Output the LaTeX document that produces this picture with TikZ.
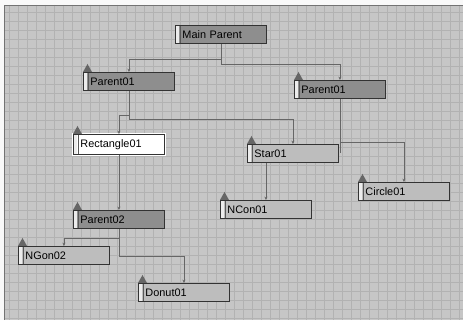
\documentclass[tikz,border=0pt]{standalone}
\usepackage{fontspec}
\setmainfont{Liberation Sans}
\usetikzlibrary{arrows.meta, positioning, calc}
\definecolor{canvasbg}{HTML}{C6C6C6}
\definecolor{gridc}{HTML}{B2B2B2}
\definecolor{boxdark}{HTML}{8E8E8E}
\definecolor{boxlight}{HTML}{BDBDBD}

\begin{document}
\begin{tikzpicture}[
    x=0.03cm, y=-0.03cm,
    font=\fontsize{9.3}{10}\selectfont,
    >={Stealth[length=1mm, width=0.9mm]},
    obj/.style={draw=black!80, fill=#1, line width=0.8pt, anchor=north west, minimum width=2.73cm, minimum height=0.54cm, inner xsep=0.21cm, inner ysep=0pt, text width=2.31cm, align=left,
      path picture={\fill[white!85!gray] (path picture bounding box.north west) rectangle ([xshift=0.12cm]path picture bounding box.south west);
        \draw[black!65, line width=0.6pt] ([xshift=0.15cm]path picture bounding box.north west) -- ([xshift=0.15cm]path picture bounding box.south west);}},
    sel/.style={minimum height=0.6cm, preaction={draw=white, line width=3.2pt}},
    link/.style={->, draw=black!60, line width=0.5pt},
    tri/.style={fill=black!60},
  ]
  \useasboundingbox (0,0) rectangle (463,320);
  % ---- canvas and grid
  \fill[white!95!gray] (0,0) rectangle (463,320);
  \fill[canvasbg] (4,5) rectangle (463,320);
  \foreach \gx in {9,18,...,463} \draw[gridc, line width=0.35pt] (\gx,5) -- (\gx,320);
  \foreach \gy in {12,21,...,320} \draw[gridc, line width=0.35pt] (4,\gy) -- (463,\gy);
  \draw[black!55, line width=1.2pt] (4.5,320) -- (4.5,5.5) -- (463,5.5);
  % ---- objects
  \node[obj=boxdark] (main) at (175,25) {Main Parent};
  \node[obj=boxdark] (par1) at (83,72) {Parent01};
  \node[obj=boxdark] (par1b) at (294,80) {Parent01};
  \node[obj=white, sel] (rect) at (73,134) {Rectangle01};
  \node[obj=boxlight] (star) at (247,144) {Star01};
  \node[obj=boxlight] (circ) at (358,182) {Circle01};
  \node[obj=boxlight] (ngon1) at (220,200) {NCon01};
  \node[obj=boxdark] (par2) at (73,210) {Parent02};
  \node[obj=boxlight] (ngon2) at (18,246) {NGon02};
  \node[obj=boxlight] (donut) at (138,283) {Donut01};
  % ---- markers
  \foreach \n in {par1,par1b,rect,star,circ,ngon1,par2,ngon2,donut}
    \fill[tri] (\n.north west) -- ++(9,0) -- ++(-4.5,-8) -- cycle;
  % ---- links
  \draw[link] (main.south) -- ++(0,15) -| (par1.north);
  \draw[link] (main.south) -- ++(0,20) -| (par1b.north);
  \draw[link] (par1.south) -- ++(0,28) -| (star.north);
  \draw[link] ($(par1.south)+(0,24)$) -| (rect.north);
  \draw[link] (rect.south) -- (par2.north);
  \draw[draw=black!60, line width=0.5pt] (par1b.south) -- (par1b.south |- star.east);
  \draw[link] ($(par1b.south)+(0,43)$) -| (circ.north);
  \draw[link] (ngon1.north |- star.south) -- (ngon1.north);
  \draw[link] (par2.south) -- ++(0,9) -| (ngon2.north);
  \draw[link] (par2.south) -- ++(0,27) -| (donut.north);
\end{tikzpicture}
\end{document}
